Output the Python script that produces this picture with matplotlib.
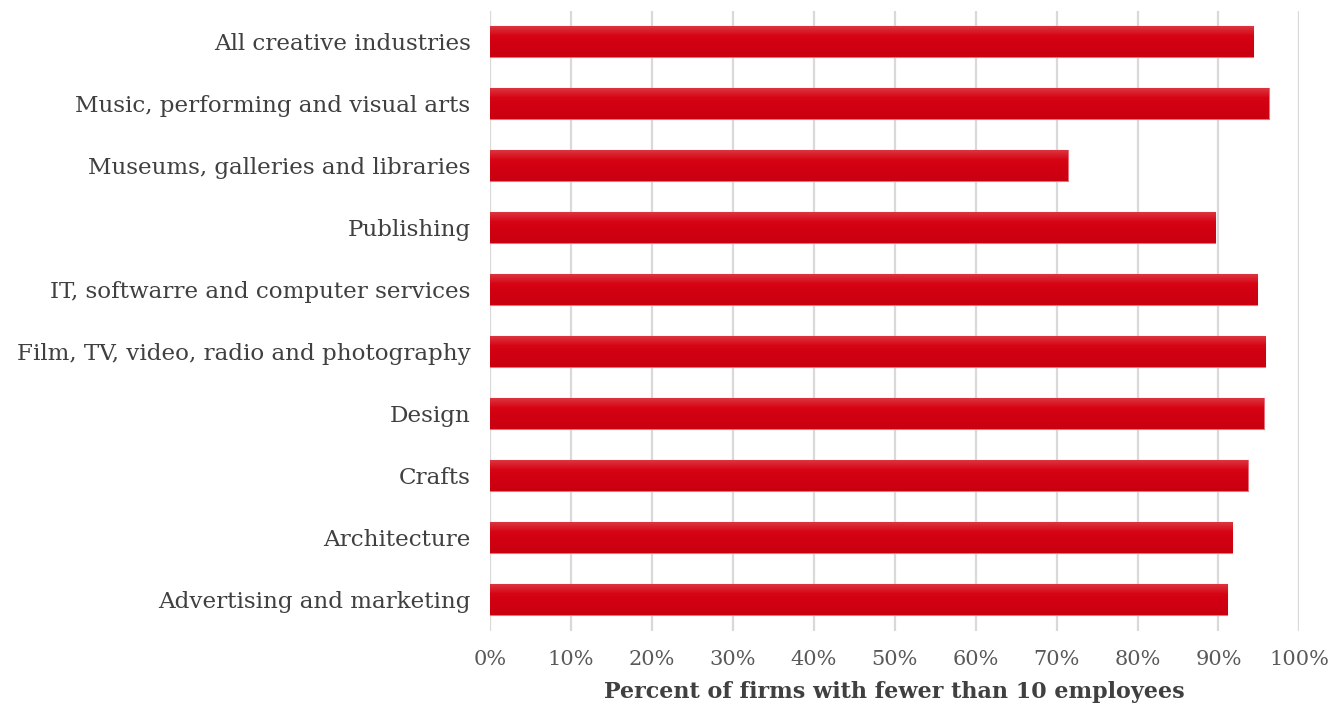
import matplotlib
matplotlib.use("Agg")
import matplotlib.pyplot as plt
import numpy as np
from matplotlib.ticker import PercentFormatter

# sectors, top to bottom as in the chart
sectors = ['All creative industries', 'Music, performing and visual arts',
           'Museums, galleries and libraries', 'Publishing',
           'IT, softwarre and computer services', 'Film, TV, video, radio and photography',
           'Design', 'Crafts', 'Architecture', 'Advertising and marketing']
small_share = [94.3, 96.2, 71.4, 89.6, 94.8, 95.8, 95.6, 93.6, 91.7, 91.1]

plt.rcParams['font.family'] = ['DejaVu Serif']

fig = plt.figure(figsize=(13.36, 7.06), dpi=100)
ax = fig.add_axes([0.3668, 0.1069, 0.6058, 0.8782])

y = np.arange(len(sectors))
bars = ax.barh(y, small_share, height=0.5, color='#d0000f', edgecolor='#e8707a',
               linewidth=0.8, zorder=2)

# vertical gradient inside each bar (lighter on top)
grad = np.linspace(0, 1, 64).reshape(-1, 1)
cmap = matplotlib.colors.LinearSegmentedColormap.from_list(
    'bar', ['#dc3a44', '#d60414', '#d00012', '#c8000f'])
for b in bars:
    x0, y0 = b.get_x(), b.get_y()
    w, h = b.get_width(), b.get_height()
    im = ax.imshow(grad, cmap=cmap, aspect='auto', extent=(x0, x0 + w, y0, y0 + h),
                   origin='lower', zorder=2.5)
    im.set_clip_path(b)

ax.set_ylim(len(sectors) - 0.5, -0.5)
ax.set_xlim(0, 100)
ax.set_yticks(y)
ax.set_yticklabels(sectors, fontsize=16.6, color='#404040')
ax.xaxis.set_major_formatter(PercentFormatter(decimals=0))
ax.set_xticks(np.arange(0, 101, 10))
ax.tick_params(axis='x', labelsize=15, labelcolor='#595959', length=0, pad=14)
ax.tick_params(axis='y', length=0, pad=14)
ax.grid(axis='x', color='#d9d9d9', linewidth=1.6, zorder=0)
ax.set_axisbelow(True)
for s in ax.spines.values():
    s.set_visible(False)

ax.set_xlabel('Percent of firms with fewer than 10 employees', fontsize=16,
              fontweight='bold', color='#404040', labelpad=9)

fig.savefig('out.png', dpi=100)
